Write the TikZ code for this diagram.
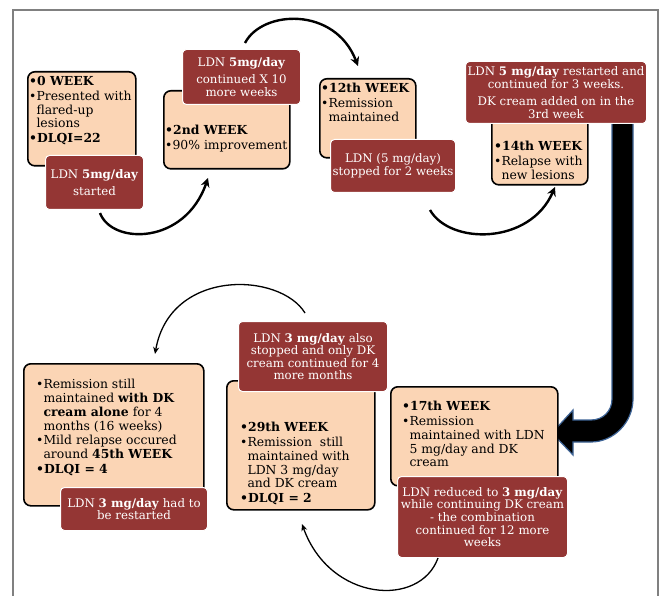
\documentclass[tikz,border=0pt]{standalone}
\usepackage{fontspec}
\setmainfont{DejaVu Serif}
\usetikzlibrary{arrows.meta}

\definecolor{peach}{RGB}{251,213,181}
\definecolor{dosered}{RGB}{148,54,52}
\definecolor{framegray}{RGB}{128,128,128}
\definecolor{arrowblue}{RGB}{62,100,150}
\newcommand{\hang}{\hphantom{\textbullet}}

\tikzset{
  stage/.style={draw=black, line width=1.6pt, fill=peach, rounded corners=7pt, anchor=north west, inner sep=0pt},
  stagetext/.style={anchor=north west, align=left, inner sep=0pt, font=\fontsize{12.4}{13.8}\selectfont},
  dose/.style={draw=white, line width=1pt, fill=dosered, rounded corners=4pt, anchor=north west, inner sep=0pt, text=white, align=center, font=\fontsize{11.8}{12.6}\selectfont},
  turn/.style={-{Stealth[length=9pt,width=9pt]}, line width=2.4pt},
  thinturn/.style={-{Stealth[length=7pt,width=6pt]}, line width=1.3pt}
}

\begin{document}
\begin{tikzpicture}[x=1pt,y=-1pt]
\useasboundingbox (0,0) rectangle (661,596);
\draw[framegray, line width=1.5pt] (13,596) -- (13,10) -- (658,10) -- (658,596);

% big arrow down the right side
\filldraw[fill=black, draw=arrowblue, line width=1.2pt]
  (612,115) -- (633,115) -- (633,399) .. controls (633,422) and (614,442) .. (591,442)
  -- (573,442) -- (573,455) -- (552,433) -- (573,410) -- (573,420) -- (591,420)
  .. controls (603,420) and (612,411) .. (612,399) -- cycle;

% week boxes
\node[stage, minimum width=108pt, minimum height=94pt] (w0) at (27,71) {};
\node[stagetext] (w0t) at (29,76) {\textbf{•0 WEEK}\\[1pt] •Presented with\\ \hang flared-up\\ \hang lesions\\[1pt] \textbf{•DLQI=22}};
\node[stage, minimum width=126pt, minimum height=78pt] (w2) at (163,90) {};
\node[stagetext] (w2t) at (165,125) {\textbf{•2nd WEEK}\\[1pt] •90\% improvement};
\node[stage, minimum width=96pt, minimum height=79pt] (w12) at (319,78) {};
\node[stagetext] (w12t) at (321,83) {\textbf{•12th WEEK}\\[1pt] •Remission\\ \hang maintained};
\node[stage, minimum width=96pt, minimum height=74pt] (w14) at (491,110) {};
\node[stagetext] (w14t) at (494,141) {\textbf{•14th WEEK}\\[1pt] •Relapse with\\ \hang new lesions};
\node[stage, minimum width=167pt, minimum height=99pt] (w17) at (390,386) {};
\node[stagetext] (w17t) at (402,401) {\textbf{•17th WEEK}\\[1pt] •Remission\\ \hang maintained with LDN\\ \hang 5 mg/day and DK\\ \hang cream};
\node[stage, minimum width=148pt, minimum height=129pt] (w29) at (226,380) {};
\node[stagetext] (w29t) at (240,422) {\textbf{•29th WEEK}\\[1pt] •Remission\ \ still\\ \hang maintained with\\ \hang LDN 3 mg/day\\ \hang and DK cream\\[1pt] \textbf{•DLQI = 2}};
\node[stage, minimum width=180pt, minimum height=142pt] (w45) at (23,363) {};
\node[stagetext] (w45t) at (36,379) {•Remission still\\ \hang maintained \textbf{with DK}\\ \hang\textbf{cream alone} for 4\\ \hang months (16 weeks)\\[1pt] •Mild relapse occured\\ \hang around \textbf{45th WEEK}\\[1pt] \textbf{•DLQI = 4}};

% dose boxes
\node[dose, minimum width=98pt, minimum height=54pt] (d0) at (45,155) {LDN \textbf{5mg/day}\\[5pt] started};
\node[dose, minimum width=118pt, minimum height=55pt] (d2) at (182,49) {LDN \textbf{5mg/day}\\[5pt] continued X 10\\ more weeks};
\node[dose, minimum width=125pt, minimum height=53pt] (d12) at (330,139) {LDN (5 mg/day)\\ stopped for 2 weeks};
\node[dose, minimum width=181pt, minimum height=62pt] (d14) at (465,61) {LDN \textbf{5 mg/day} restarted and\\ continued for 3 weeks.\\[5pt] DK cream added on in the\\ 3rd week};
\node[dose, minimum width=170pt, minimum height=81pt] (d17) at (397,476) {LDN reduced to \textbf{3 mg/day}\\ while continuing DK cream\\ - the combination\\ continued for 12 more\\ weeks};
\node[dose, minimum width=149pt, minimum height=70pt] (d29) at (238,321) {LDN \textbf{3 mg/day} also\\ stopped and only DK\\ cream continued for 4\\ more months};
\node[dose, minimum width=147pt, minimum height=43pt] (d45) at (60,487) {LDN \textbf{3 mg/day} had to\\ be restarted};

% curved connectors
\coordinate (c0s) at (100,213);
\coordinate (c0e) at (208,178);
\coordinate (c2s) at (245,43);
\coordinate (c2e) at (358,66);
\coordinate (c12s) at (430,210);
\coordinate (c12e) at (555,187);
\coordinate (c17s) at (438,558);
\coordinate (c17e) at (302,524);
\coordinate (c29s) at (305,313);
\coordinate (c29e) at (155,354);
\draw[turn] (c0s) .. controls (112,245) and (185,245) .. (c0e);
\draw[turn] (c2s) .. controls (262,10) and (335,6) .. (c2e);
\draw[turn] (c12s) .. controls (450,245) and (530,245) .. (c12e);
\draw[thinturn] (c17s) .. controls (420,608) and (330,602) .. (c17e);
\draw[thinturn] (c29s) .. controls (280,272) and (170,268) .. (c29e);
\end{tikzpicture}
\end{document}
